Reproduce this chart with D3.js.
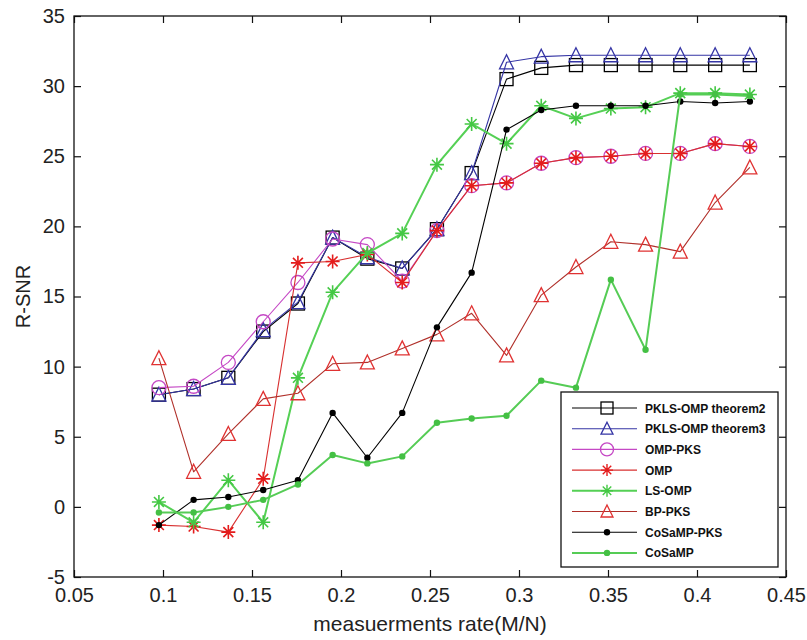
<!DOCTYPE html>
<html>
<head>
<meta charset="utf-8">
<script src="https://cdn.jsdelivr.net/npm/d3@7"></script>
<style>
  html, body { margin: 0; padding: 0; background: #fff; }
  svg { display: block; font-family: "Liberation Sans", Arial, sans-serif; }
</style>
</head>
<body>
<svg id="chart" width="807" height="640"></svg>
<script>
// Measurement rates M/N
const rates = [0.0977, 0.1172, 0.1367, 0.1563, 0.1758, 0.1953, 0.2148, 0.2344, 0.2539,
               0.2734, 0.2930, 0.3125, 0.3320, 0.3516, 0.3711, 0.3906, 0.4102, 0.4297];

// R-SNR per method
const pklsTheorem2 = [8.0, 8.4, 9.2, 12.5, 14.5, 19.2, 17.7, 17.0, 19.8, 23.8, 30.5, 31.3, 31.5, 31.5, 31.5, 31.5, 31.5, 31.5];
const pklsTheorem3 = [8.0, 8.4, 9.2, 12.6, 14.6, 19.2, 17.8, 17.0, 19.8, 23.8, 31.7, 32.1, 32.2, 32.2, 32.2, 32.2, 32.2, 32.2];
const ompPks       = [8.5, 8.6, 10.3, 13.2, 16.0, 19.1, 18.7, 16.1, 19.7, 22.9, 23.1, 24.5, 24.9, 25.0, 25.2, 25.2, 25.9, 25.7];
const omp          = [-1.3, -1.4, -1.8, 2.0, 17.4, 17.5, 18.0, 16.0, 19.7, 22.9, 23.1, 24.5, 24.9, 25.0, 25.2, 25.2, 25.9, 25.7];
const lsOmp        = [0.35, -1.1, 1.9, -1.1, 9.2, 15.3, 18.1, 19.5, 24.4, 27.3, 25.9, 28.6, 27.7, 28.4, 28.5, 29.5, 29.5, 29.4];
const bpPks        = [10.6, 2.5, 5.2, 7.7, 8.1, 10.2, 10.3, 11.3, 12.3, 13.8, 10.8, 15.1, 17.1, 18.9, 18.7, 18.2, 21.7, 24.2];
const cosampPks    = [-1.3, 0.5, 0.7, 1.2, 1.9, 6.7, 3.5, 6.7, 12.8, 16.7, 26.9, 28.3, 28.6, 28.6, 28.6, 28.9, 28.8, 28.9];
const cosamp       = [-0.4, -0.4, 0.0, 0.5, 1.6, 3.7, 3.1, 3.6, 6.0, 6.3, 6.5, 9.0, 8.5, 16.2, 11.2, 29.4, 29.4, 29.3];

// Axis ticks
const xTicks = [0.05, 0.1, 0.15, 0.2, 0.25, 0.3, 0.35, 0.4, 0.45];
const xTickLabels = ["0.05", "0.1", "0.15", "0.2", "0.25", "0.3", "0.35", "0.4", "0.45"];
const yTicks = [-5, 0, 5, 10, 15, 20, 25, 30, 35];
const yTickLabels = ["-5", "0", "5", "10", "15", "20", "25", "30", "35"];

const series = [
  { name: "PKLS-OMP theorem2", values: pklsTheorem2, line: "#000000", marker: "square",   mColor: "#000000", width: 1.1 },
  { name: "PKLS-OMP theorem3", values: pklsTheorem3, line: "#3535a5", marker: "triangle", mColor: "#3535a5", width: 1.1 },
  { name: "OMP-PKS",           values: ompPks,       line: "#c548c5", marker: "circle",   mColor: "#c548c5", width: 1.1 },
  { name: "OMP",               values: omp,          line: "#d83030", marker: "star",     mColor: "#e41c1c", width: 1.1 },
  { name: "LS-OMP",            values: lsOmp,        line: "#55d055", marker: "star",     mColor: "#44c844", width: 2.0 },
  { name: "BP-PKS",            values: bpPks,        line: "#b0302a", marker: "triangle", mColor: "#e03232", width: 1.1 },
  { name: "CoSaMP-PKS",        values: cosampPks,    line: "#000000", marker: "dot",      mColor: "#000000", width: 1.1 },
  { name: "CoSaMP",            values: cosamp,       line: "#55cc55", marker: "dot",      mColor: "#44c044", width: 2.0 }
];

const W = 807, H = 640;
const margin = { left: 74, top: 16, right: 21, bottom: 63 };
const plotW = W - margin.left - margin.right;
const plotH = H - margin.top - margin.bottom;

const x = d3.scaleLinear().domain([0.05, 0.45]).range([0, plotW]);
const y = d3.scaleLinear().domain([-5, 35]).range([plotH, 0]);

const svg = d3.select("#chart");
const g = svg.append("g").attr("transform", `translate(${margin.left},${margin.top})`);

// Frame axes with inward ticks on all four sides
const tickLen = 7;
const fmtX = v => xTickLabels[xTicks.indexOf(v)];
const fmtY = v => yTickLabels[yTicks.indexOf(v)];

const xBottom = g.append("g").attr("transform", `translate(0,${plotH})`)
  .call(d3.axisBottom(x).tickValues(xTicks).tickFormat(fmtX).tickSizeInner(-tickLen).tickSizeOuter(0).tickPadding(11));
const xTop = g.append("g")
  .call(d3.axisTop(x).tickValues(xTicks).tickFormat("").tickSizeInner(-tickLen).tickSizeOuter(0));
const yLeft = g.append("g")
  .call(d3.axisLeft(y).tickValues(yTicks).tickFormat(fmtY).tickSizeInner(-tickLen).tickSizeOuter(0).tickPadding(9));
const yRight = g.append("g").attr("transform", `translate(${plotW},0)`)
  .call(d3.axisRight(y).tickValues(yTicks).tickFormat("").tickSizeInner(-tickLen).tickSizeOuter(0));

[xBottom, xTop, yLeft, yRight].forEach(a => {
  a.select(".domain").remove();
  a.selectAll(".tick line").attr("stroke", "#111").attr("stroke-width", 1.2);
  a.selectAll(".tick text").attr("fill", "#222").style("font-size", "20px")
    .style("font-family", "'Liberation Sans', Arial, sans-serif");
});

g.append("rect").attr("x", 0).attr("y", 0).attr("width", plotW).attr("height", plotH)
  .attr("fill", "none").attr("stroke", "#111").attr("stroke-width", 1.3);

// Axis titles
svg.append("text")
  .attr("x", margin.left + plotW / 2).attr("y", 631)
  .attr("text-anchor", "middle").attr("fill", "#222")
  .style("font-size", "21px")
  .text("measuerments rate(M/N)");

svg.append("text")
  .attr("transform", `translate(30,${margin.top + plotH / 2}) rotate(-90)`)
  .attr("text-anchor", "middle").attr("fill", "#222")
  .style("font-size", "20px")
  .text("R-SNR");

// Marker shapes
function asteriskPath(r) {
  const d = r * Math.SQRT1_2;
  return `M${-r},0L${r},0M0,${-r}L0,${r}M${-d},${-d}L${d},${d}M${-d},${d}L${d},${-d}`;
}
function drawMarker(sel, type, color, big) {
  if (type === "square") {
    const s = big ? 13 : 12;
    sel.append("rect").attr("x", -s / 2).attr("y", -s / 2).attr("width", s).attr("height", s)
      .attr("fill", "none").attr("stroke", color).attr("stroke-width", 1.3);
  } else if (type === "triangle") {
    const w = big ? 14 : 12, h = big ? 13 : 11;
    sel.append("path").attr("d", `M0,${-h / 2 - 1}L${w / 2},${h / 2}L${-w / 2},${h / 2}Z`)
      .attr("fill", "none").attr("stroke", color).attr("stroke-width", 1.3);
  } else if (type === "circle") {
    sel.append("circle").attr("r", big ? 7 : 6.5)
      .attr("fill", "none").attr("stroke", color).attr("stroke-width", 1.3);
  } else if (type === "star") {
    sel.append("path").attr("d", asteriskPath(big ? 7 : 6))
      .attr("fill", "none").attr("stroke", color).attr("stroke-width", big ? 1.6 : 1.4);
  } else if (type === "dot") {
    sel.append("circle").attr("r", 3.2).attr("fill", color);
  }
}

const line = d3.line().x(d => x(d[0])).y(d => y(d[1]));

// Series lines and markers, drawn in legend order
series.forEach(s => {
  const pts = rates.map((r, i) => [r, s.values[i]]);
  const sg = g.append("g").attr("class", "series");
  sg.append("path").datum(pts).attr("d", line)
    .attr("fill", "none").attr("stroke", s.line).attr("stroke-width", s.width)
    .attr("stroke-linejoin", "round");
  sg.selectAll("g.mk").data(pts).enter().append("g").attr("class", "mk")
    .attr("transform", d => `translate(${x(d[0])},${y(d[1])})`)
    .each(function () { drawMarker(d3.select(this), s.marker, s.mColor, true); });
});

// Legend
const legX = 561, legY = 392, legW = 217, legH = 175;
const leg = svg.append("g");
leg.append("rect").attr("x", legX).attr("y", legY).attr("width", legW).attr("height", legH)
  .attr("fill", "#fff").attr("stroke", "#111").attr("stroke-width", 1.3);
const rowStep = 20.7;
series.forEach((s, i) => {
  const ry = legY + 16 + i * rowStep;
  const row = leg.append("g");
  row.append("line").attr("x1", legX + 11).attr("x2", legX + 76).attr("y1", ry).attr("y2", ry)
    .attr("stroke", s.line).attr("stroke-width", s.width);
  const mk = row.append("g").attr("transform", `translate(${legX + 46},${ry})`);
  drawMarker(mk, s.marker, s.mColor, false);
  row.append("text").attr("x", legX + 84).attr("y", ry + 4.5)
    .attr("fill", "#111").style("font-size", "12px").style("font-weight", "bold")
    .text(s.name);
});
</script>
</body>
</html>
